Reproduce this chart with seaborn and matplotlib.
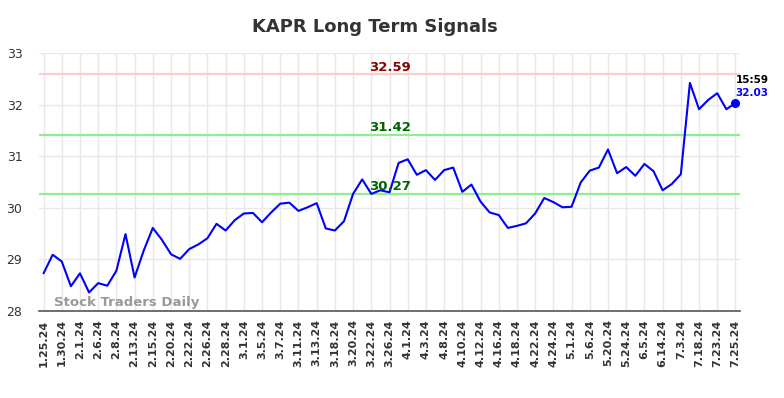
import matplotlib
matplotlib.use("Agg")
import matplotlib.pyplot as plt
import seaborn as sns
import pandas as pd
import numpy as np

tick_labels = ["1.25.24", "1.30.24", "2.1.24", "2.6.24", "2.8.24", "2.13.24", "2.15.24",
               "2.20.24", "2.22.24", "2.26.24", "2.28.24", "3.1.24", "3.5.24", "3.7.24",
               "3.11.24", "3.13.24", "3.18.24", "3.20.24", "3.22.24", "3.26.24", "4.1.24",
               "4.3.24", "4.8.24", "4.10.24", "4.12.24", "4.16.24", "4.18.24", "4.22.24",
               "4.24.24", "5.1.24", "5.6.24", "5.20.24", "5.24.24", "6.5.24", "6.14.24",
               "7.3.24", "7.18.24", "7.23.24", "7.25.24"]

prices = [28.73, 29.09, 28.96, 28.48, 28.73, 28.36, 28.54, 28.49, 28.78, 29.49,
          28.65, 29.17, 29.61, 29.38, 29.10, 29.01, 29.20, 29.29, 29.41, 29.69,
          29.56, 29.76, 29.89, 29.90, 29.72, 29.91, 30.08, 30.10, 29.94, 30.01,
          30.09, 29.60, 29.56, 29.74, 30.27, 30.55, 30.27, 30.34, 30.30, 30.87,
          30.94, 30.64, 30.73, 30.54, 30.73, 30.78, 30.31, 30.45, 30.12, 29.91,
          29.86, 29.61, 29.65, 29.70, 29.89, 30.19, 30.11, 30.01, 30.02, 30.49,
          30.72, 30.78, 31.13, 30.67, 30.79, 30.62, 30.85, 30.71, 30.34, 30.46,
          30.65, 32.42, 31.91, 32.09, 32.22, 31.91, 32.03]

resistance = 32.59
mid_level = 31.42
support = 30.27
last_time = "15:59"

df = pd.DataFrame({"idx": np.arange(len(prices)), "price": prices})

sns.set_style("white")
fig = plt.figure(figsize=(7.84, 3.98), dpi=100)
ax = fig.add_axes([39/784, 1-311/398, (740-39)/784, (311-53)/398])

ax.set_xlim(-0.5, len(prices) - 0.5)
ax.set_ylim(28, 33)

# grid
ax.set_axisbelow(True)
ax.grid(True, color="#e8e8e8", linewidth=1)

for lvl, col in [(resistance, "#ffcccc"), (mid_level, "#90ee90"), (support, "#90ee90")]:
    ax.axhline(lvl, color=col, linewidth=1.6, zorder=1)

sns.lineplot(data=df, x="idx", y="price", ax=ax, color="#0000ff", linewidth=1.5, zorder=3)

ax.scatter([df["idx"].iloc[-1]], [df["price"].iloc[-1]], color="#0000ff", s=30, zorder=4)

xc = 38
for lvl, col in [(resistance, "#8b0000"), (mid_level, "#006400"), (support, "#006400")]:
    ax.text(xc, lvl + 0.07, f"{lvl:.2f}", color=col, fontsize=9.5, fontweight="bold",
            ha="center", va="baseline", zorder=5)

ax.text(len(prices) - 1, df["price"].iloc[-1] + 0.45, last_time, color="black",
        fontsize=7.5, fontweight="bold", ha="left", va="center")
ax.text(len(prices) - 1, df["price"].iloc[-1] + 0.19, f"{df['price'].iloc[-1]:.2f}",
        color="#0000ff", fontsize=7.5, fontweight="bold", ha="left", va="center")

ax.text(1.1, 28.16, "Stock Traders Daily", color="#999999", fontsize=9.5, fontweight="bold",
        ha="left", va="center", zorder=2)

ax.set_xticks(np.arange(0, len(prices), 2))
ax.set_xticklabels(tick_labels, rotation=90, fontsize=8, fontweight="bold", color="#333333")
ax.set_yticks([28, 29, 30, 31, 32, 33])
ax.set_yticklabels(["28", "29", "30", "31", "32", "33"], fontsize=9, color="#333333")
ax.tick_params(axis="both", length=0, pad=6)
ax.tick_params(axis="y", pad=12)
ax.set_xlabel("")
ax.set_ylabel("")

for s in ["top", "right", "left"]:
    ax.spines[s].set_visible(False)
ax.spines["bottom"].set_color("#555555")
ax.spines["bottom"].set_linewidth(1.2)

fig.text(375/784, 1-27/398, "KAPR Long Term Signals", ha="center", va="center",
         fontsize=13, fontweight="bold", color="#333333")

fig.savefig("out.png", dpi=100)
